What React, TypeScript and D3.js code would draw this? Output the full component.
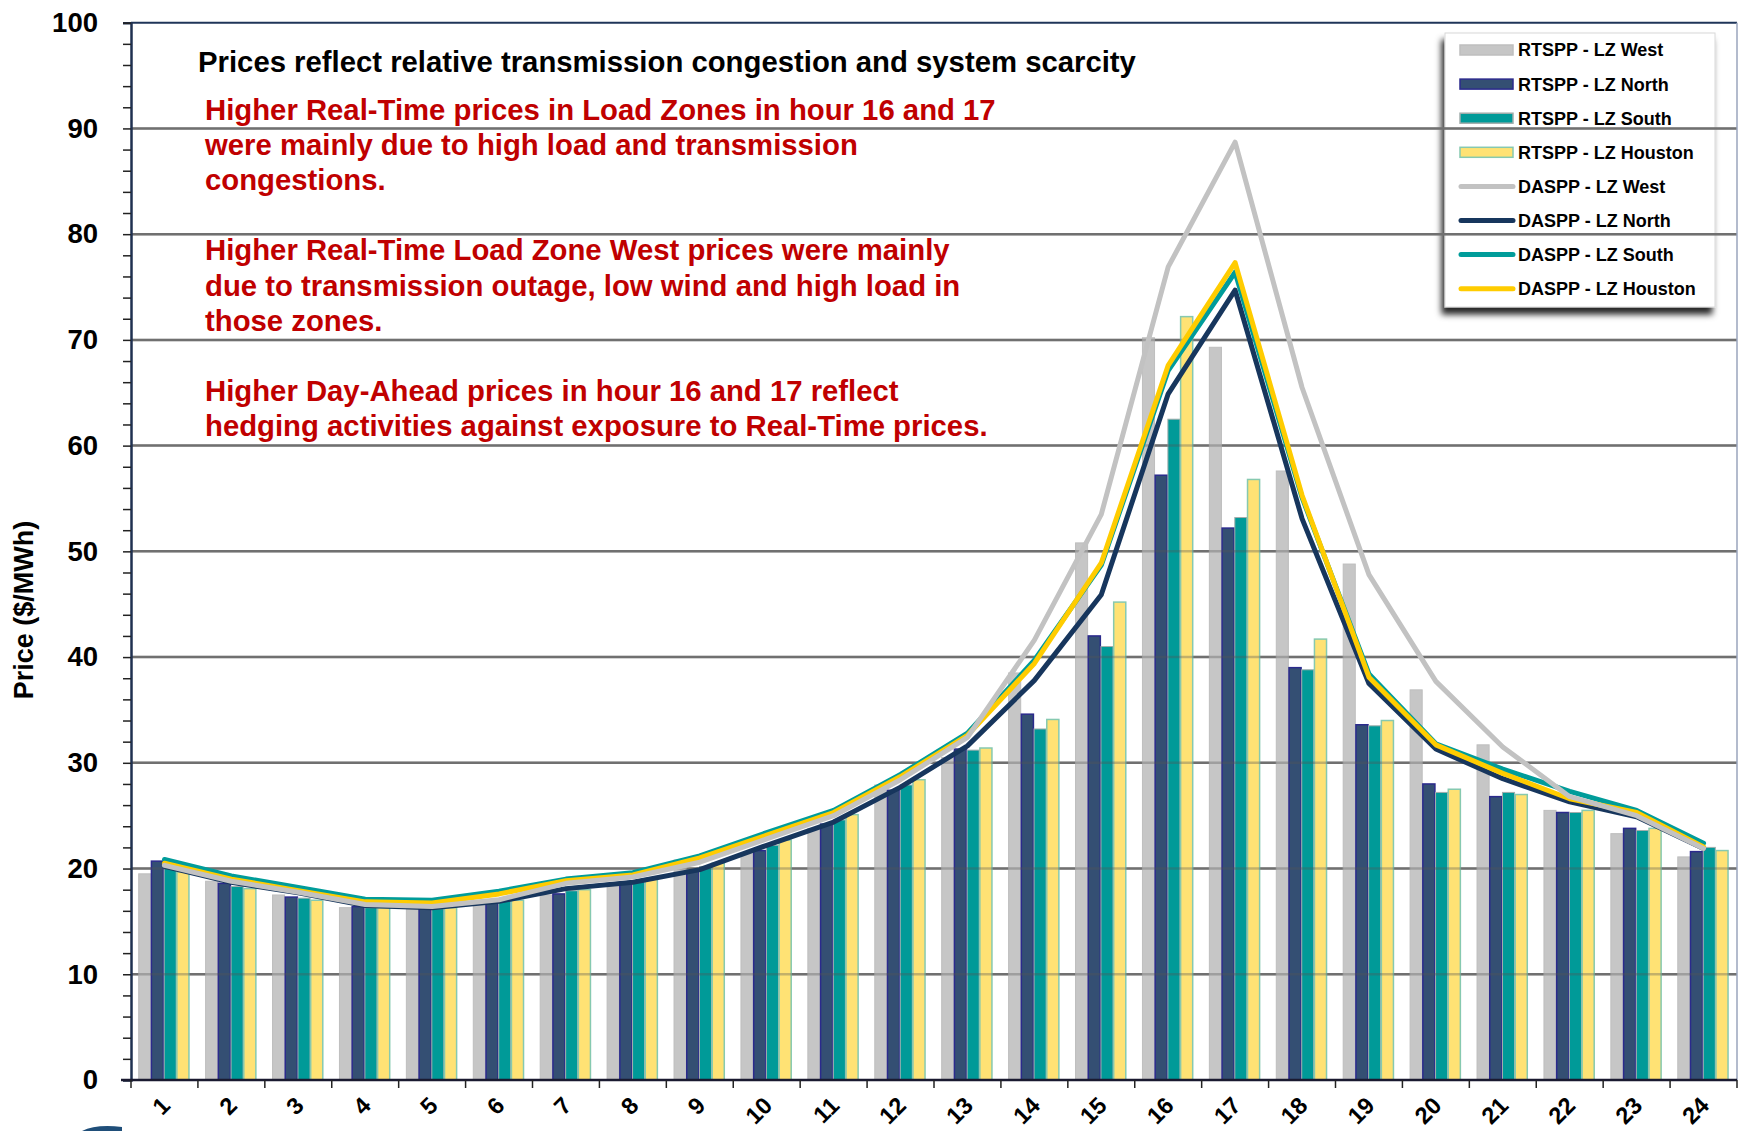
import React, { useEffect, useRef } from 'react';
import * as d3 from 'd3';

// hourly prices ($/MWh)
const hours = ['1', '2', '3', '4', '5', '6', '7', '8', '9', '10', '11', '12', '13', '14', '15', '16', '17', '18', '19', '20', '21', '22', '23', '24'];

const rtWest = [19.5, 18.8, 17.5, 16.3, 16.2, 16.6, 17.5, 18.5, 20.8, 21.4, 23.8, 27.9, 30.5, 38.5, 50.8, 70.2, 69.3, 57.6, 48.8, 36.9, 31.7, 25.5, 23.3, 21.1];
const rtNorth = [20.7, 18.6, 17.3, 16.4, 16.2, 16.8, 17.6, 18.6, 19.8, 21.7, 24.2, 27.4, 31.3, 34.6, 42.0, 57.2, 52.2, 39.0, 33.6, 28.0, 26.8, 25.3, 23.8, 21.6];
const rtSouth = [20.3, 18.3, 17.2, 16.3, 16.2, 16.9, 17.9, 18.8, 20.2, 22.2, 24.6, 27.9, 31.2, 33.2, 41.0, 62.5, 53.2, 38.8, 33.5, 27.2, 27.2, 25.3, 23.6, 22.0];
const rtHouston = [19.7, 18.1, 17.0, 16.3, 16.3, 17.0, 18.0, 19.0, 20.5, 22.7, 25.1, 28.4, 31.4, 34.1, 45.2, 72.2, 56.8, 41.7, 34.0, 27.5, 27.0, 25.5, 23.8, 21.7];

const daWest = [20.3, 18.8, 17.75, 16.6, 16.4, 17.05, 18.6, 19.2, 20.6, 22.8, 25.0, 28.4, 32.4, 41.6, 53.5, 76.9, 88.7, 65.5, 47.8, 37.7, 31.5, 26.8, 25.0, 21.9];
const daNorth = [20.2, 18.7, 17.7, 16.5, 16.3, 16.9, 18.1, 18.7, 19.9, 22.2, 24.4, 27.7, 31.6, 37.8, 45.9, 64.9, 74.7, 53.1, 37.5, 31.3, 28.5, 26.3, 24.9, 21.9];
const daSouth = [20.85, 19.3, 18.2, 17.1, 17.0, 17.85, 19.0, 19.6, 21.2, 23.4, 25.5, 28.9, 32.8, 39.7, 48.7, 67.1, 76.4, 55.1, 38.4, 31.8, 29.4, 27.3, 25.5, 22.4];
const daHouston = [20.5, 19.0, 17.9, 16.85, 16.75, 17.6, 18.85, 19.4, 21.0, 23.15, 25.3, 28.7, 32.6, 39.4, 48.9, 67.6, 77.3, 55.3, 38.1, 31.7, 29.0, 26.6, 25.3, 22.05];

const yTicks = [0, 10, 20, 30, 40, 50, 60, 70, 80, 90, 100];
const yMinor = d3.range(0, 101, 2);

const barSeries = [
  { name: 'RTSPP - LZ West', values: rtWest, fill: '#c6c6c6', stroke: '#bebebe', sw: 1 },
  { name: 'RTSPP - LZ North', values: rtNorth, fill: '#344f73', stroke: '#2b2a8c', sw: 1.5 },
  { name: 'RTSPP - LZ South', values: rtSouth, fill: '#009a98', stroke: '#a3aead', sw: 1 },
  { name: 'RTSPP - LZ Houston', values: rtHouston, fill: '#ffe274', stroke: '#86c9b0', sw: 1.5 },
];

const lineSeries = [
  { name: 'DASPP - LZ West', values: daWest, color: '#c2c2c2' },
  { name: 'DASPP - LZ North', values: daNorth, color: '#17365d' },
  { name: 'DASPP - LZ South', values: daSouth, color: '#009c9a' },
  { name: 'DASPP - LZ Houston', values: daHouston, color: '#ffcc00' },
];
// order the lines are painted in (west ends up on top)
const lineDrawOrder = [1, 2, 3, 0];

const notes = [
  'Higher Real-Time prices in Load Zones in hour 16 and 17',
  'were mainly due to high load and transmission',
  'congestions.',
  '',
  'Higher Real-Time Load Zone West prices were mainly',
  'due to transmission outage, low wind and high load in',
  'those zones.',
  '',
  'Higher Day-Ahead prices in hour 16 and 17 reflect',
  'hedging activities against exposure to Real-Time prices.',
];

const W = 1739;
const H = 1131;
const font = '"Liberation Sans", Arial, Helvetica, sans-serif';

const App = () => {
  const ref = useRef<SVGSVGElement>(null);

  useEffect(() => {
    const svg = d3.select(ref.current);
    svg.selectAll('*').remove();

    const left = 131, right = 1737, top = 22.7, bottom = 1080;

    const x = d3.scaleBand<string>().domain(hours).range([left, right]).padding(0);
    const bw = x.bandwidth();
    const x1 = d3.scaleBand<number>()
      .domain(barSeries.map((_, i) => i))
      .range([bw * 0.115, bw * 0.866])
      .paddingInner(0.05);
    const y = d3.scaleLinear().domain([0, 100]).range([bottom, top]);

    const defs = svg.append('defs');
    const f = defs.append('filter').attr('id', 'legshadow')
      .attr('x', '-10%').attr('y', '-10%').attr('width', '120%').attr('height', '125%');
    f.append('feDropShadow').attr('dx', -3).attr('dy', 7).attr('stdDeviation', 3)
      .attr('flood-color', '#000').attr('flood-opacity', 0.85);

    // legend box (gridlines run over it)
    const legX = 1445, legY = 33, legW = 270, legH = 274;
    svg.append('rect')
      .attr('x', legX).attr('y', legY).attr('width', legW).attr('height', legH)
      .attr('fill', '#fff').attr('stroke', '#d8d8d8').attr('stroke-width', 1)
      .attr('filter', 'url(#legshadow)');

    // gridlines under the bars
    const grid = svg.append('g');
    grid.selectAll('line').data(yTicks.filter(d => d > 0 && d < 100)).enter().append('line')
      .attr('x1', left).attr('x2', right)
      .attr('y1', d => y(d)).attr('y2', d => y(d))
      .attr('stroke', '#808080').attr('stroke-width', 2.5);

    // bars
    const groups = svg.append('g').selectAll('g').data(hours).enter().append('g')
      .attr('transform', h => `translate(${x(h)},0)`);
    barSeries.forEach((s, si) => {
      groups.append('rect')
        .attr('x', x1(si)!)
        .attr('width', x1.bandwidth())
        .attr('y', (_, i) => y(s.values[i]))
        .attr('height', (_, i) => y(0) - y(s.values[i]))
        .attr('fill', s.fill)
        .attr('stroke', s.stroke)
        .attr('stroke-width', s.sw);
    });

    // gridlines show through the bars a little
    svg.append('g').selectAll('line').data(yTicks.filter(d => d > 0 && d < 100)).enter().append('line')
      .attr('x1', left).attr('x2', right)
      .attr('y1', d => y(d)).attr('y2', d => y(d))
      .attr('stroke', '#555').attr('stroke-width', 2.5).attr('opacity', 0.35);

    // day-ahead lines
    const line = d3.line<number>()
      .x((_, i) => x(hours[i])! + bw / 2)
      .y(d => y(d))
      .curve(d3.curveLinear);
    lineDrawOrder.forEach(k => {
      const s = lineSeries[k];
      svg.append('path')
        .attr('d', line(s.values))
        .attr('fill', 'none')
        .attr('stroke', s.color)
        .attr('stroke-width', 5)
        .attr('stroke-linejoin', 'round')
        .attr('stroke-linecap', 'round');
    });

    // frame
    svg.append('line').attr('x1', left).attr('x2', right).attr('y1', top).attr('y2', top)
      .attr('stroke', '#1f3559').attr('stroke-width', 2);
    svg.append('line').attr('x1', right).attr('x2', right).attr('y1', top).attr('y2', bottom)
      .attr('stroke', '#9aa4bc').attr('stroke-width', 1.5);

    // y axis
    const yAxis = svg.append('g')
      .attr('transform', `translate(${left},0)`)
      .call(d3.axisLeft(y).tickValues(yMinor).tickSize(8).tickPadding(25)
        .tickFormat(d => (yTicks.includes(+d) ? String(d) : '')));
    yAxis.select('.domain').attr('stroke', '#1f3050').attr('stroke-width', 2.5);
    yAxis.selectAll('.tick line').attr('stroke', '#222').attr('stroke-width', 1.5);
    yAxis.selectAll('.tick text')
      .attr('font-family', font).attr('font-size', 27.5).attr('font-weight', 'bold').attr('fill', '#000');

    // x axis
    const xg = svg.append('g');
    xg.append('line').attr('x1', left - 10).attr('x2', right).attr('y1', bottom).attr('y2', bottom)
      .attr('stroke', '#1a1a30').attr('stroke-width', 2.5);
    xg.selectAll('line.tk').data([...hours.map(h => x(h)!), right]).enter().append('line')
      .attr('class', 'tk')
      .attr('x1', d => d).attr('x2', d => d)
      .attr('y1', bottom).attr('y2', bottom + 8)
      .attr('stroke', '#222').attr('stroke-width', 1.5);
    xg.selectAll('text').data(hours).enter().append('text')
      .attr('transform', h => `translate(${x(h)! + bw / 2 + 7},${bottom + 27}) rotate(-45)`)
      .attr('text-anchor', 'end')
      .attr('font-family', font).attr('font-size', 23.5).attr('font-weight', 'bold').attr('fill', '#000')
      .text(h => h);

    // y title
    svg.append('text')
      .attr('transform', `translate(33,610) rotate(-90)`)
      .attr('text-anchor', 'middle')
      .attr('font-family', font).attr('font-size', 27).attr('font-weight', 'bold').attr('fill', '#000')
      .text('Price ($/MWh)');

    // annotations
    svg.append('text')
      .attr('x', 198).attr('y', 71.5)
      .attr('font-family', font).attr('font-size', 29.3).attr('font-weight', 'bold').attr('fill', '#000')
      .text('Prices reflect relative transmission congestion and system scarcity');
    svg.append('g').selectAll('text').data(notes).enter().append('text')
      .attr('x', 205).attr('y', (_, i) => 120 + i * 35.1)
      .attr('font-family', font).attr('font-size', 29.3).attr('font-weight', 'bold').attr('fill', '#c00000')
      .text(d => d);

    // legend entries
    const rowY = (i: number) => 50 + i * 34.1;
    const lg = svg.append('g');
    barSeries.forEach((s, i) => {
      lg.append('rect')
        .attr('x', 1460).attr('y', rowY(i) - 5).attr('width', 53).attr('height', 10)
        .attr('fill', s.fill).attr('stroke', s.stroke).attr('stroke-width', 1.5);
      lg.append('text')
        .attr('x', 1518).attr('y', rowY(i)).attr('dy', '0.36em')
        .attr('font-family', font).attr('font-size', 18).attr('font-weight', 'bold').attr('fill', '#000')
        .text(s.name);
    });
    lineSeries.forEach((s, j) => {
      const i = j + barSeries.length;
      lg.append('line')
        .attr('x1', 1461).attr('x2', 1513).attr('y1', rowY(i)).attr('y2', rowY(i))
        .attr('stroke', s.color).attr('stroke-width', 5).attr('stroke-linecap', 'round');
      lg.append('text')
        .attr('x', 1518).attr('y', rowY(i)).attr('dy', '0.36em')
        .attr('font-family', font).attr('font-size', 18).attr('font-weight', 'bold').attr('fill', '#000')
        .text(s.name);
    });

    // bit of the slide logo peeking in at the bottom left
    svg.append('path')
      .attr('d', 'M82,1131 Q96,1124 122,1127 L122,1131 Z')
      .attr('fill', '#1f4e79');
  }, []);

  return (
    <div style={{ position: 'absolute', left: 0, top: 0 }}>
      <svg ref={ref} width={W} height={H} style={{ display: 'block', background: '#fff' }}></svg>
    </div>
  );
};

export default App;
